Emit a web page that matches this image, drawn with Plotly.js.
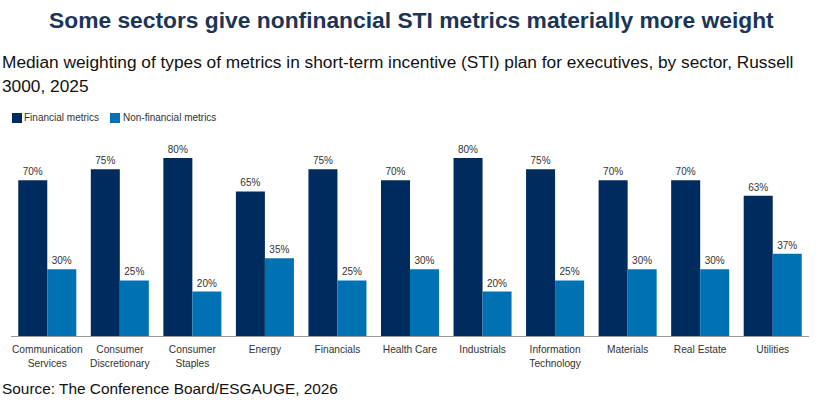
<!DOCTYPE html>
<html><head><meta charset="utf-8">
<script src="https://cdn.plot.ly/plotly-3.0.1.min.js"></script>
<style>body{margin:0;background:#fff}#chart{width:823px;height:403px}</style>
</head><body><div id="chart"></div>
<script>
const categories = ["Communication<br>Services","Consumer<br>Discretionary","Consumer<br>Staples","Energy","Financials","Health Care","Industrials","Information<br>Technology","Materials","Real Estate","Utilities"];
const financial = [70,75,80,65,75,70,80,75,70,70,63];
const nonFinancial = [30,25,20,35,25,30,20,25,30,30,37];
const seriesNames = ["Financial metrics","Non-financial metrics"];
const colors = ["#002b5f","#0072b4"];

const FONT = "Liberation Sans, Arial, sans-serif";
const mk = (vals, name, color) => ({
  type:"bar", x:categories, y:vals, name:name,
  marker:{color:color},
  text: vals.map(v=>v+"%"), textposition:"outside", cliponaxis:false,
  textfont:{family:FONT, size:10, color:"#333"}
});

const data = [mk(financial, seriesNames[0], colors[0]), mk(nonFinancial, seriesNames[1], colors[1])];

const W = 823, H = 403, L = 11, R = 14, T = 128, B = 67;
const plotW = W - L - R, plotH = H - T - B;
const px = x => (x - L) / plotW;
const py = y => (H - B - y) / plotH;

const annotations = [
  {text:"<b>Some sectors give nonfinancial STI metrics materially more weight</b>",
   x:px(411.5), xanchor:"center", y:py(20), yanchor:"middle", font:{size:22.8, color:"#1c3557"}},
  {text:"Median weighting of types of metrics in short-term incentive (STI) plan for executives, by sector, Russell",
   x:px(3), xanchor:"left", y:py(62), yanchor:"middle", font:{size:17.3, color:"#111"}},
  {text:"3000, 2025",
   x:px(3), xanchor:"left", y:py(86), yanchor:"middle", font:{size:17.3, color:"#111"}},
  {text:"Source: The Conference Board/ESGAUGE, 2026",
   x:px(3), xanchor:"left", y:py(388), yanchor:"middle", font:{size:15.4, color:"#111"}},
  {text:seriesNames[0], x:px(25), xanchor:"left", y:py(118), yanchor:"middle", font:{size:10, color:"#333"}},
  {text:seriesNames[1], x:px(124), xanchor:"left", y:py(118), yanchor:"middle", font:{size:10, color:"#333"}}
].map(a => Object.assign({xref:"paper", yref:"paper", showarrow:false, align:"left", xshift:0}, a));
annotations.forEach(a => { if (a.xanchor === "left") a.xshift = -3; });

const shapes = [
  {type:"rect", xref:"paper", yref:"paper", x0:px(12), x1:px(22), y0:py(123), y1:py(113), fillcolor:colors[0], line:{width:0}},
  {type:"rect", xref:"paper", yref:"paper", x0:px(110), x1:px(120), y0:py(123), y1:py(113), fillcolor:colors[1], line:{width:0}}
];

const layout = {
  width:W, height:H,
  margin:{l:L, r:R, t:T, b:B},
  barmode:"group", bargap:0.2, bargroupgap:0,
  paper_bgcolor:"#fff", plot_bgcolor:"#fff",
  font:{family:FONT, color:"#333"},
  showlegend:false,
  xaxis:{showgrid:false, showline:true, linecolor:"#999", linewidth:1,
    ticks:"outside", ticklen:4, tickcolor:"rgba(0,0,0,0)",
    tickfont:{size:10.2, color:"#333"}, automargin:false},
  yaxis:{range:[0,93.5], visible:false, showgrid:false, zeroline:false, fixedrange:true},
  annotations:annotations,
  shapes:shapes
};
Plotly.newPlot("chart", data, layout, {displayModeBar:false, staticPlot:true});
</script></body></html>
